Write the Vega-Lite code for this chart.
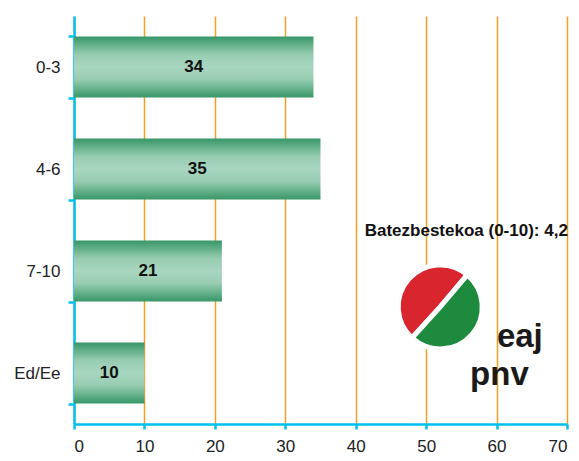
{
  "$schema": "https://vega.github.io/schema/vega-lite/v6.json",
  "autosize": "none",
  "width": 493,
  "height": 408,
  "padding": {"left": 74, "top": 16, "right": 12, "bottom": 37},
  "background": "white",
  "config": {
    "view": {"stroke": null},
    "font": "Liberation Sans"
  },
  "datasets": {
    "bars": [
      {"cat": "0-3", "value": 34},
      {"cat": "4-6", "value": 35},
      {"cat": "7-10", "value": 21},
      {"cat": "Ed/Ee", "value": 10}
    ]
  },
  "resolve": {"scale": {"y": "independent"}, "axis": {"y": "independent"}},
  "layer": [
    {
      "data": {"name": "bars"},
      "transform": [{"calculate": "datum.value / 2", "as": "mid"}],
      "encoding": {
        "y": {
          "field": "cat", "type": "nominal", "sort": ["0-3", "4-6", "7-10", "Ed/Ee"],
          "scale": {"paddingInner": 0.4, "paddingOuter": 0.2},
          "axis": {
            "title": null, "domainColor": "#00c0f0", "domainWidth": 2.5,
            "tickColor": "#00c0f0", "tickWidth": 2.5, "tickSize": 6, "tickBand": "extent",
            "labelPadding": 8, "grid": false,
            "labelFont": "Liberation Sans", "labelFontSize": 17, "labelColor": "#222222"
          }
        }
      },
      "layer": [
        {
          "mark": {
            "type": "bar",
            "color": {
              "gradient": "linear", "x1": 0, "y1": 0, "x2": 0, "y2": 1,
              "stops": [
                {"offset": 0, "color": "#379768"},
                {"offset": 0.3, "color": "#98cdb2"},
                {"offset": 0.5, "color": "#a8d6c0"},
                {"offset": 0.7, "color": "#98cdb2"},
                {"offset": 1, "color": "#379768"}
              ]
            }
          },
          "encoding": {
            "x": {
              "field": "value", "type": "quantitative",
              "scale": {"domain": [0, 70], "nice": false},
              "axis": {
                "title": null, "values": [0, 10, 20, 30, 40, 50, 60, 70],
                "domainColor": "#00c0f0", "domainWidth": 2.5,
                "tickColor": "#00c0f0", "tickWidth": 2.5, "tickSize": 5,
                "labelPadding": 9, "grid": true, "gridColor": "#f5a020", "gridWidth": 1.5,
                "labelFont": "Liberation Sans", "labelFontSize": 17, "labelColor": "#222222"
              }
            }
          }
        },
        {
          "mark": {"type": "text", "fontWeight": "bold", "fontSize": 17, "color": "#111111", "baseline": "middle", "align": "center"},
          "encoding": {
            "x": {"field": "mid", "type": "quantitative"},
            "text": {"field": "value", "type": "quantitative"}
          }
        }
      ]
    },
    {
      "data": {"values": [{}]},
      "encoding": {
        "y": {"type": "quantitative", "scale": {"domain": [0, 100], "nice": false}, "axis": null}
      },
      "layer": [
        {
          "mark": {"type": "text", "text": "Batezbestekoa (0-10): 4,2", "fontWeight": "bold", "fontSize": 17, "letterSpacing": 0.5, "color": "#111111", "align": "center", "baseline": "middle"},
          "encoding": {"x": {"datum": 55.7}, "y": {"datum": 47.3}}
        },
        {
          "mark": {"type": "arc", "theta": -2.4, "theta2": 0.7, "outerRadius": 42, "innerRadius": 0, "color": "#d9262e", "stroke": "white", "strokeWidth": 5},
          "encoding": {"x": {"datum": 52}, "y": {"datum": 28.7}}
        },
        {
          "mark": {"type": "arc", "theta": 0.7, "theta2": 3.88, "outerRadius": 42, "innerRadius": 0, "color": "#1e8a3e", "stroke": "white", "strokeWidth": 5},
          "encoding": {"x": {"datum": 52}, "y": {"datum": 28.7}}
        },
        {
          "mark": {"type": "text", "text": "eaj", "fontWeight": "bold", "fontSize": 33, "color": "#1a1a1a", "align": "center", "baseline": "alphabetic"},
          "encoding": {"x": {"datum": 63.3}, "y": {"datum": 18.9}}
        },
        {
          "mark": {"type": "text", "text": "pnv", "fontWeight": "bold", "fontSize": 33, "color": "#1a1a1a", "align": "center", "baseline": "alphabetic"},
          "encoding": {"x": {"datum": 60.4}, "y": {"datum": 9.6}}
        }
      ]
    }
  ]
}
